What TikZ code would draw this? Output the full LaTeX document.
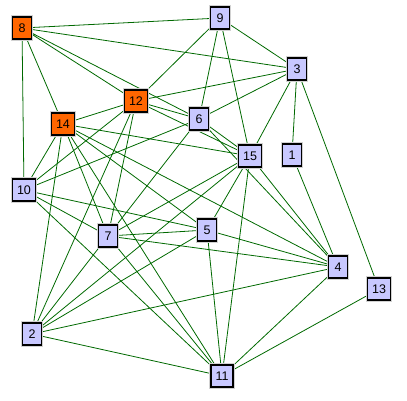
\documentclass[tikz,border=0pt]{standalone}
\usepackage{fontspec}
\setmainfont{Liberation Sans}
\usetikzlibrary{backgrounds}
\definecolor{boxblue}{RGB}{200,200,255}
\definecolor{boxorange}{RGB}{255,102,0}
\definecolor{edgegreen}{RGB}{0,105,0}
\begin{document}
\begin{tikzpicture}[x=1pt, y=-1pt,
    vertex/.style={draw=black, line width=1.6pt, fill=boxblue, minimum width=19pt, minimum height=22pt,
      inner xsep=4.5pt, inner ysep=0pt, font=\fontsize{12.5}{12.5}\selectfont,
      preaction={draw=gray!35, line width=3.6pt}},
    hot/.style={vertex, fill=boxorange},
    edge/.style={draw=edgegreen, line width=0.8pt}]
    \useasboundingbox (0,0) rectangle (407,400);
    \node[vertex] (n1) at (292,155) {1};
    \node[vertex] (n2) at (32,334) {2};
    \node[vertex] (n3) at (297,69) {3};
    \node[vertex] (n4) at (338,267) {4};
    \node[vertex] (n5) at (207,230) {5};
    \node[vertex] (n6) at (199,119) {6};
    \node[vertex] (n7) at (108,236) {7};
    \node[hot] (n8) at (22,28) {8};
    \node[vertex] (n9) at (220,18) {9};
    \node[vertex] (n10) at (24,190) {10};
    \node[vertex] (n11) at (222,376) {11};
    \node[hot] (n12) at (136,101) {12};
    \node[vertex] (n13) at (379,289) {13};
    \node[hot] (n14) at (63,124) {14};
    \node[vertex] (n15) at (250,156) {15};
    \begin{scope}[on background layer]
    \draw[edge] (n8) -- (n9) (n8) -- (n3) (n8) -- (n12) (n8) -- (n6) (n8) -- (n14) (n8) -- (n10);
    \draw[edge] (n9) -- (n12) (n9) -- (n6) (n9) -- (n15) (n9) -- (n3);
    \draw[edge] (n3) -- (n12) (n3) -- (n6) (n3) -- (n15) (n3) -- (n1) (n3) -- (n13);
    \draw[edge] (n12) -- (n6) (n12) -- (n15) (n12) -- (n14) (n12) -- (n10) (n12) -- (n2) (n12) -- (n7);
    \draw[edge] (n14) -- (n10) (n14) -- (n2) (n14) -- (n7) (n14) -- (n11) (n14) -- (n5) (n14) -- (n4) (n14) -- (n15);
    \draw[edge] (n6) -- (n15) (n6) -- (n10) (n6) -- (n7) (n6) -- (n4);
    \draw[edge] (n10) -- (n5) (n10) -- (n7) (n10) -- (n11);
    \draw[edge] (n7) -- (n2) (n7) -- (n5) (n7) -- (n4) (n7) -- (n11) (n7) -- (n15);
    \draw[edge] (n5) -- (n2) (n5) -- (n11) (n5) -- (n4) (n5) -- (n15);
    \draw[edge] (n15) -- (n2) (n15) -- (n11) (n15) -- (n4);
    \draw[edge] (n1) -- (n4) (n4) -- (n2) (n4) -- (n11) (n13) -- (n11) (n2) -- (n11);
    \end{scope}
\end{tikzpicture}
\end{document}
